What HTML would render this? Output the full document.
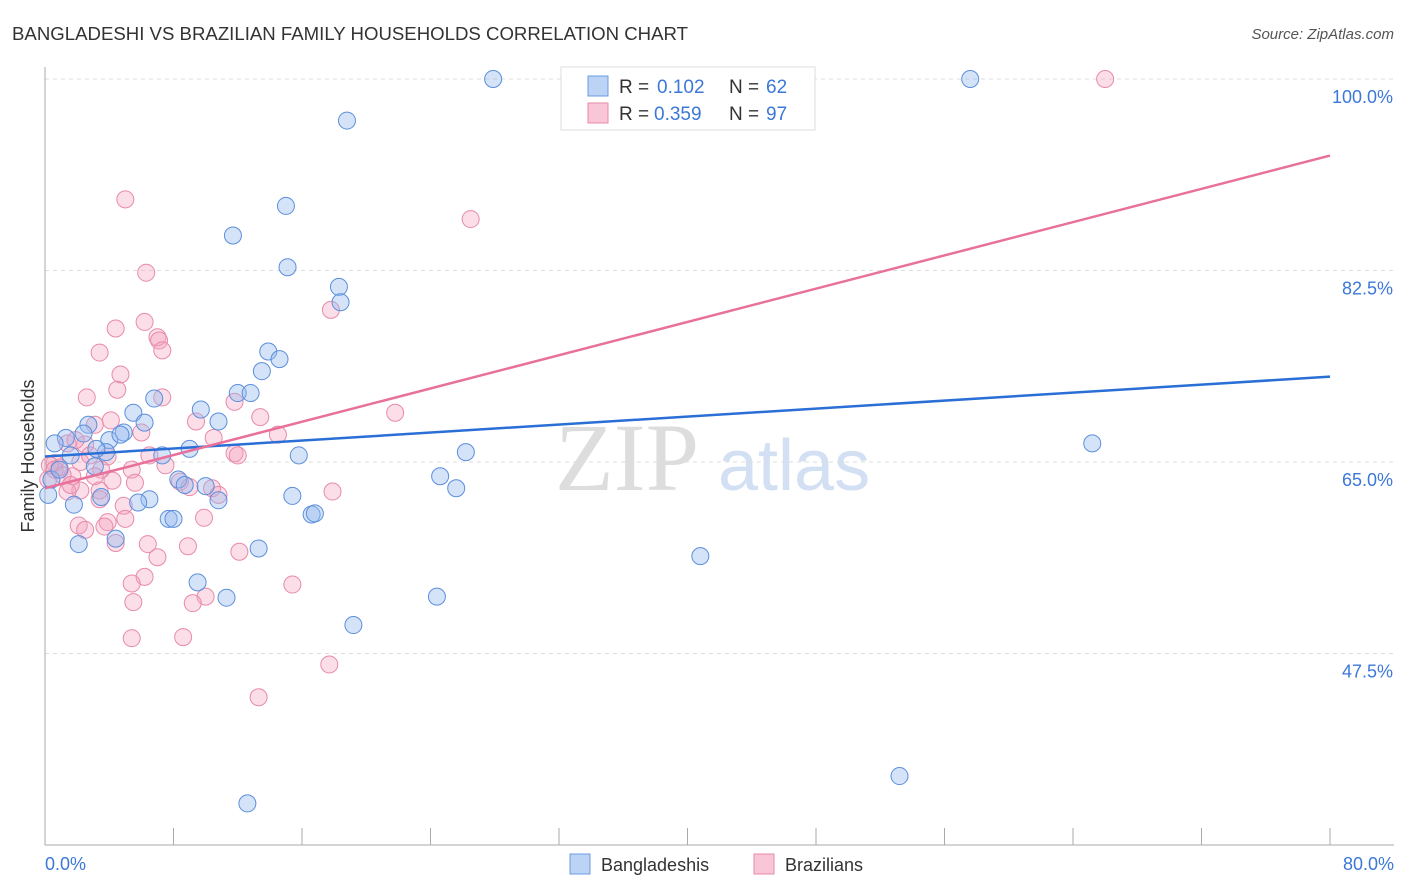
<!DOCTYPE html>
<html><head><meta charset="utf-8"><style>
body{margin:0;background:#fff;font-family:"Liberation Sans",sans-serif;}
svg{display:block}
</style></head><body>
<svg id="chart" width="1406" height="892" viewBox="0 0 1406 892" xmlns="http://www.w3.org/2000/svg">
<text x="12" y="40" font-size="18" fill="#333" textLength="676" lengthAdjust="spacingAndGlyphs">BANGLADESHI VS BRAZILIAN FAMILY HOUSEHOLDS CORRELATION CHART</text>
<text x="1394" y="39" font-size="15" fill="#555" text-anchor="end" font-style="italic">Source: ZipAtlas.com</text>
<g><text x="555" y="490" font-size="96" fill="#ddd" font-family="Liberation Serif">ZIP</text><text x="718" y="490" font-size="72" fill="#d3e0f3">atlas</text></g>
<g id="grid"></g><g id="axes"></g><g id="pts"></g><g id="trend"></g>
<text transform="translate(34,456) rotate(-90)" font-size="18" fill="#333" text-anchor="middle">Family Households</text>
<text x="45" y="870" font-size="18" fill="#3c78d8">0.0%</text>
<text x="1394" y="870" font-size="18" fill="#3c78d8" text-anchor="end">80.0%</text>
<g>
<rect x="561" y="67" width="254" height="63" fill="#fff" stroke="#ddd"/>
<rect x="588" y="76" width="20" height="20" fill="#bcd3f5" stroke="#6a9be0"/>
<text x="619" y="93" font-size="19" fill="#333">R =</text><text x="657" y="93" font-size="19" fill="#3c78d8">0.102</text>
<text x="729" y="93" font-size="19" fill="#333">N =</text><text x="766" y="93" font-size="19" fill="#3c78d8">62</text>
<rect x="588" y="103" width="20" height="20" fill="#f8c6d6" stroke="#e88aaa"/>
<text x="619" y="120" font-size="19" fill="#333">R =</text><text x="654" y="120" font-size="19" fill="#3c78d8">0.359</text>
<text x="729" y="120" font-size="19" fill="#333">N =</text><text x="766" y="120" font-size="19" fill="#3c78d8">97</text>
</g>
<g>
<rect x="570" y="854" width="20" height="20" fill="#bcd3f5" stroke="#6a9be0"/>
<text x="601" y="871" font-size="18" fill="#333">Bangladeshis</text>
<rect x="754" y="854" width="20" height="20" fill="#f8c6d6" stroke="#e88aaa"/>
<text x="785" y="871" font-size="18" fill="#333">Brazilians</text>
</g>
</svg>
<script>
const yTicks=[100,82.5,65,47.5];
const yTickLabels=["100.0%","82.5%","65.0%","47.5%"];
const xTicks=[0,8,16,24,32,40,48,56,64,72,80];
const blueX=[27.9,57.6,18.8,15.0,11.7,15.1,18.3,18.4,13.9,14.6,13.5,12.0,12.8,6.8,5.5,9.7,10.8,6.2,2.7,4.9,4.0,1.3,0.6,9.0,3.8,7.3,15.8,26.2,65.2,3.1,24.6,8.3,8.7,10.0,25.6,15.4,6.5,3.5,5.8,10.8,1.8,16.6,16.8,7.7,8.0,4.4,2.1,13.3,40.8,9.5,11.3,24.4,19.2,53.2,12.6,0.2,0.4,0.9,2.4,1.6,3.2,4.7];
const blueY=[100,100,96.2,88.4,85.7,82.8,81.0,79.6,75.1,74.4,73.3,71.3,71.3,70.8,69.5,69.8,68.7,68.6,68.4,67.7,67.0,67.2,66.7,66.2,65.9,65.6,65.6,65.9,66.7,64.6,63.7,63.4,62.9,62.8,62.6,61.9,61.6,61.8,61.3,61.5,61.1,60.2,60.3,59.8,59.8,58.0,57.5,57.1,56.4,54.0,52.6,52.7,50.1,36.3,33.8,62.0,63.4,64.3,67.6,65.6,66.2,67.5];
const pinkX=[66.0,5.0,26.5,6.3,17.8,6.2,4.4,7.0,7.1,7.3,3.4,4.7,4.5,2.6,7.3,11.8,21.8,13.4,4.1,14.5,6.0,9.4,3.1,10.5,1.4,2.5,11.8,12.0,3.9,6.5,7.5,3.5,0.6,2.2,0.9,5.4,1.7,3.1,4.2,8.4,9.0,5.6,10.4,2.2,3.4,1.4,10.8,17.9,4.9,3.4,2.1,5.0,9.9,2.5,3.9,3.7,6.4,4.4,8.9,7.0,12.1,6.2,5.4,15.4,10.0,5.5,9.2,5.4,8.6,17.7,13.3,0.3,0.6,0.2,1.1,1.6,2.8,1.9];
const pinkY=[100,89.0,87.2,82.3,78.9,77.8,77.2,76.4,76.1,75.2,75.0,73.0,71.6,70.9,70.9,70.5,69.5,69.1,68.8,67.5,67.7,68.7,68.4,67.2,66.7,66.6,65.8,65.6,65.5,65.6,64.7,64.3,64.9,65.0,64.5,64.3,63.7,63.7,63.3,63.2,62.7,63.1,62.6,62.4,62.4,62.3,62.0,62.3,61.0,61.6,59.2,59.8,59.9,58.8,59.5,59.1,57.5,57.6,57.3,56.3,56.8,54.5,53.9,53.8,52.7,52.2,52.1,48.9,49.0,46.5,43.5,64.7,64.3,63.4,63.8,62.9,65.6,67.0];
const blueTrend=[65.5,72.8];
const pinkTrend=[62.6,93.0];
const NS="http://www.w3.org/2000/svg";
const X=v=>45+v/80*1285;
const Y=v=>79+(100-v)/17.5*191.5;
function mk(tag,attrs,parent){const e=document.createElementNS(NS,tag);for(const k in attrs)e.setAttribute(k,attrs[k]);document.getElementById(parent).appendChild(e);return e;}
yTicks.forEach((t,i)=>{
 const g=mk('line',{x1:45,x2:1394,y1:Y(t),y2:Y(t),stroke:'#ddd','stroke-dasharray':'4,4'},'grid');
 
 
 const l=mk('text',{x:1393,y:Y(t)+24,'font-size':18,fill:'#3c78d8','text-anchor':'end'},'grid');
 l.textContent=yTickLabels[i];
 
 
});
const ax=mk('line',{x1:45,x2:45,y1:67,y2:845,stroke:'#aaa'},'axes');


const bx=mk('line',{x1:45,x2:1394,y1:845,y2:845,stroke:'#aaa'},'axes');


xTicks.forEach(t=>{
 const k=mk('line',{x1:X(t),x2:X(t),y1:828,y2:845,stroke:'#aaa'},'axes');
 
 
});
pinkX.forEach((v,i)=>{
 const c=mk('circle',{cx:X(v),cy:Y(pinkY[i]),r:8.5,fill:'rgba(244,160,188,0.35)',stroke:'#e88aaa','stroke-width':1},'pts');
 
 
});
blueX.forEach((v,i)=>{
 const c=mk('circle',{cx:X(v),cy:Y(blueY[i]),r:8.5,fill:'rgba(150,185,240,0.4)',stroke:'#5b8fdc','stroke-width':1},'pts');
 
 
});
const bl=mk('line',{x1:X(0),y1:Y(blueTrend[0]),x2:X(80),y2:Y(blueTrend[1]),stroke:'#2a6fd6','stroke-width':2.5},'trend');


const pl=mk('line',{x1:X(0),y1:Y(pinkTrend[0]),x2:X(80),y2:Y(pinkTrend[1]),stroke:'#e8709a','stroke-width':2.5},'trend');


</script>
</body></html>
